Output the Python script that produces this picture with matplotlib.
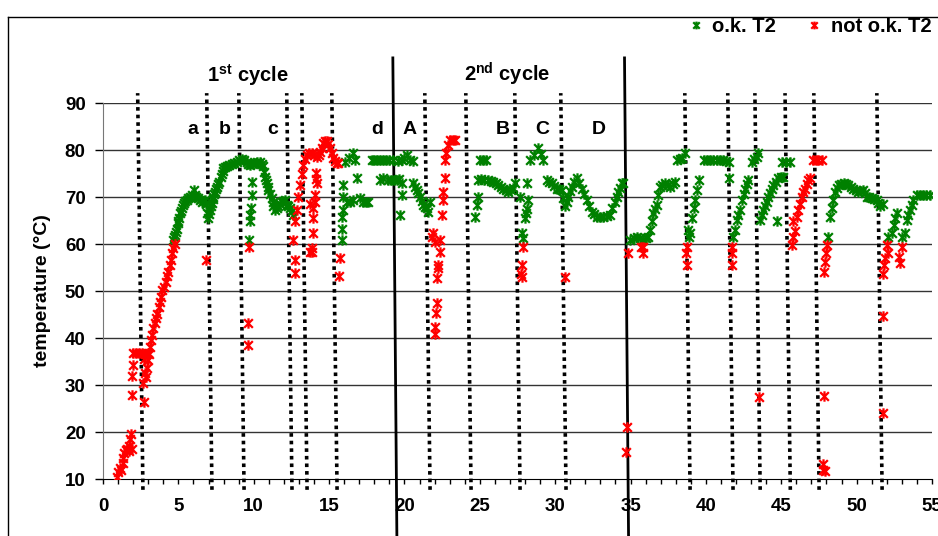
import matplotlib
matplotlib.use("Agg")
import matplotlib.pyplot as plt
from matplotlib.path import Path
from matplotlib.lines import Line2D

plt.rcParams['font.family'] = ['Liberation Sans', 'DejaVu Sans']
plt.rcParams['mathtext.fontset'] = 'custom'
plt.rcParams['mathtext.rm'] = 'Liberation Sans:bold'
plt.rcParams['mathtext.bf'] = 'Liberation Sans:bold'

# measured points (time, temperature °C)
ok_T2 = [
    (4.67, 60.9), (4.72, 61.5), (4.78, 61.9), (4.84, 62.6), (4.89, 63.3), (4.95, 64.4), (5.0, 65.0),
    (5.04, 65.5), (5.11, 66.5), (5.16, 67.0), (5.22, 67.6), (5.3, 68.2), (5.37, 68.7), (5.45, 69.1),
    (5.55, 69.4), (5.65, 69.8), (5.77, 70.0), (5.9, 70.5), (6.04, 71.5), (6.1, 70.4), (6.2, 70.0),
    (6.33, 69.7), (6.45, 69.4), (6.55, 69.0), (6.65, 69.2), (6.77, 69.4), (6.85, 68.5), (6.92, 66.5),
    (6.99, 65.5), (7.05, 66.3), (7.1, 67.2), (7.15, 68.0), (7.21, 68.7), (7.27, 69.5), (7.32, 70.1),
    (7.38, 70.6), (7.43, 71.1), (7.5, 71.7), (7.54, 72.2), (7.62, 72.8), (7.72, 73.3), (7.8, 74.2),
    (7.87, 75.0), (7.93, 75.6), (7.98, 76.1), (8.1, 76.3), (8.21, 76.5), (8.38, 76.8), (8.54, 77.0),
    (8.7, 77.2), (8.87, 77.5), (9.03, 77.8), (9.2, 78.0), (9.37, 77.8), (9.53, 77.5), (9.65, 77.1),
    (9.75, 76.8), (9.92, 77.0), (10.09, 77.3), (10.25, 77.5), (10.42, 77.5), (10.55, 77.0), (10.64, 76.5),
    (10.7, 75.4), (10.75, 74.3), (10.8, 73.6), (10.86, 72.9), (10.92, 72.2), (10.97, 71.5), (11.08, 70.6),
    (11.19, 69.7), (11.25, 68.9), (11.3, 68.0), (11.41, 67.2), (11.52, 67.6), (11.64, 68.0), (11.75, 68.5),
    (11.86, 69.0), (11.97, 69.2), (12.08, 69.4), (12.19, 68.3), (12.3, 68.0), (12.41, 67.6), (12.52, 67.0),
    (12.63, 66.2),
    (9.87, 73.3), (9.87, 70.4), (9.85, 67.7), (9.75, 66.2), (9.75, 64.9), (9.71, 60.9),
    (15.84, 60.9), (15.84, 63.3), (15.84, 65.8), (15.9, 67.2), (15.95, 70.1), (15.95, 72.6), (16.06, 77.5),
    (16.3, 78.2), (16.61, 79.3), (16.72, 77.9), (16.83, 74.0), (16.17, 69.0), (16.39, 69.0), (16.6, 69.3),
    (17.05, 69.7), (17.27, 69.0), (17.45, 69.0), (17.6, 69.0), (17.83, 77.9), (18.0, 77.9), (18.2, 77.9),
    (18.4, 77.9), (18.6, 77.9), (18.8, 77.8), (19.0, 77.9), (19.26, 77.9), (18.4, 73.7), (18.6, 74.0),
    (18.93, 73.6), (19.1, 73.6), (19.3, 73.6),
    (19.49, 73.6), (19.65, 73.8), (19.82, 72.9), (19.82, 70.4), (19.71, 66.2), (19.6, 77.6), (19.82, 77.9),
    (20.0, 78.2), (20.15, 79.0), (20.37, 77.9), (20.55, 77.6), (20.59, 72.9), (20.7, 72.2), (20.81, 71.5),
    (20.92, 70.8), (21.03, 70.1), (21.15, 69.2), (21.26, 68.3), (21.37, 67.9), (21.48, 67.6), (21.59, 66.8),
    (21.7, 69.0),
    (24.68, 65.8), (24.8, 68.3), (24.9, 70.1), (24.9, 73.6), (25.0, 77.9), (25.24, 77.9), (25.4, 77.9),
    (25.1, 73.8), (25.3, 73.6), (25.57, 73.6), (25.75, 73.5), (25.9, 73.3), (26.05, 73.0), (26.23, 72.6),
    (26.4, 72.2), (26.56, 71.8), (26.73, 71.5), (26.9, 71.1), (27.1, 71.5), (27.2, 72.0), (27.34, 72.9),
    (27.67, 70.1), (27.78, 62.3), (27.89, 61.2), (28.0, 65.5), (28.05, 66.5), (28.11, 67.5), (28.22, 69.4),
    (28.11, 72.9), (28.33, 77.9), (28.6, 79.0), (28.89, 80.4), (29.05, 79.2), (29.22, 77.9), (29.44, 73.6),
    (29.6, 73.3), (29.77, 72.9), (29.93, 72.3), (30.1, 71.8), (30.27, 71.7), (30.43, 71.5), (30.55, 69.8),
    (30.66, 68.0), (30.77, 69.0), (30.88, 70.1), (31.0, 71.2), (31.1, 72.2), (31.27, 73.2), (31.43, 74.0),
    (31.6, 72.9), (31.77, 71.8), (31.93, 70.6), (32.1, 69.4), (32.27, 68.1), (32.43, 66.9), (32.6, 66.3),
    (32.76, 65.8), (33.0, 65.8), (33.2, 65.8), (33.42, 66.0), (33.64, 66.2), (33.8, 67.6), (33.97, 69.0),
    (34.1, 70.0), (34.2, 71.1), (34.3, 72.0), (34.42, 72.9), (34.53, 72.9),
    (34.97, 60.9), (35.2, 61.2), (35.41, 61.6), (35.63, 61.2), (35.85, 60.9), (36.0, 61.2), (36.18, 61.6),
    (36.3, 63.0), (36.4, 64.8), (36.52, 66.5), (36.63, 67.4), (36.74, 68.3), (36.85, 70.4), (36.96, 72.2),
    (37.12, 72.6), (37.29, 72.9), (37.46, 72.5), (37.63, 72.2), (37.8, 72.8), (37.96, 73.3), (38.07, 77.9),
    (38.25, 78.0), (38.4, 78.2), (38.62, 79.3),
    (38.84, 63.0), (38.9, 61.6), (38.95, 62.3), (39.07, 65.5), (39.18, 67.6), (39.29, 69.4), (39.4, 71.5),
    (39.51, 73.6), (39.85, 77.9), (40.1, 77.9), (40.3, 77.9), (40.5, 77.9), (40.72, 77.9), (40.95, 77.9),
    (41.16, 77.9), (41.35, 77.7), (41.5, 77.5), (41.5, 74.0),
    (41.83, 61.6), (41.94, 63.0), (42.05, 65.1), (42.16, 66.2), (42.27, 67.2), (42.38, 69.4), (42.5, 70.6),
    (42.6, 71.8), (42.71, 72.7), (42.82, 73.6), (43.04, 77.5), (43.2, 78.0), (43.37, 78.6), (43.48, 79.3),
    (43.6, 65.1), (43.71, 66.2), (43.82, 67.2), (43.93, 68.1), (44.04, 69.0), (44.15, 69.9), (44.26, 70.8),
    (44.37, 71.7), (44.48, 72.6), (44.65, 73.3), (44.81, 74.0), (44.98, 74.2), (45.14, 74.3), (44.7, 64.8),
    (45.03, 77.5), (45.3, 77.5), (45.59, 77.5),
    (48.13, 61.6), (48.24, 65.8), (48.35, 67.6), (48.46, 69.4), (48.57, 71.1), (48.68, 71.9), (48.8, 72.6),
    (48.97, 72.8), (49.13, 72.9), (49.3, 72.8), (49.46, 72.6), (49.62, 72.2), (49.79, 71.8), (49.95, 71.5),
    (50.12, 71.1), (50.3, 71.3), (50.45, 71.5), (50.56, 70.8), (50.67, 70.1), (50.83, 69.9), (51.0, 69.7),
    (51.17, 69.5), (51.34, 69.4), (51.45, 68.7), (51.56, 68.0), (51.78, 68.6),
    (52.1, 61.6), (52.33, 62.3), (52.45, 64.0), (52.55, 65.5), (52.67, 66.5), (53.0, 61.6), (53.2, 62.3),
    (53.31, 65.1), (53.43, 66.2), (53.55, 67.2), (53.66, 68.3), (53.77, 69.4), (54.0, 70.4), (54.2, 70.4),
    (54.4, 70.4), (54.6, 70.4), (54.88, 70.4),
]

not_ok_T2 = [
    (0.9, 10.5), (1.0, 11.5), (1.1, 12.3), (1.2, 12.0), (1.3, 13.5), (1.35, 14.5), (1.4, 15.5), (1.5, 16.2),
    (1.6, 16.3), (1.7, 16.0), (1.75, 17.0), (1.8, 18.5), (1.85, 19.5), (1.9, 16.3), (1.9, 27.8), (1.93, 31.9),
    (2.0, 34.2), (2.0, 36.8), (2.2, 36.8), (2.4, 36.8), (2.6, 36.8), (2.8, 36.6), (3.0, 36.8), (2.7, 35.5),
    (2.66, 30.4), (2.7, 26.4), (2.79, 32.5), (2.85, 31.7), (2.9, 33.6), (3.01, 35.3), (3.05, 36.7),
    (3.12, 38.1), (3.19, 39.6), (3.27, 40.6), (3.34, 42.1), (3.45, 43.1), (3.52, 44.2), (3.61, 45.2),
    (3.72, 46.7), (3.78, 47.7), (3.85, 48.8), (3.94, 50.2), (4.05, 50.9), (4.16, 52.0), (4.27, 53.1),
    (4.34, 54.1), (4.45, 55.5), (4.49, 56.6), (4.6, 58.0), (4.67, 59.1), (4.76, 60.1),
    (6.84, 56.6), (9.69, 59.4), (9.65, 43.3), (9.65, 38.5),
    (12.63, 60.9), (12.74, 56.6), (12.74, 53.9), (12.74, 64.8), (12.85, 67.2), (12.96, 70.1), (13.07, 72.6),
    (13.19, 75.0), (13.3, 76.8), (13.4, 78.0), (13.52, 79.0), (13.7, 79.3), (13.85, 79.3), (14.0, 79.0),
    (14.18, 78.6), (14.3, 79.0), (14.4, 79.6), (14.52, 80.5), (14.62, 81.4), (14.73, 82.0), (14.84, 82.0),
    (14.95, 81.2), (15.06, 80.4), (15.17, 79.3), (15.28, 78.2), (15.4, 77.7), (15.51, 77.2), (15.62, 77.2),
    (13.74, 68.6), (13.96, 67.6), (13.96, 65.5), (13.96, 62.3), (13.85, 59.1), (13.74, 58.4), (13.85, 58.2),
    (14.07, 70.4), (14.07, 69.0), (14.18, 72.9), (14.1, 73.9), (14.16, 75.2),
    (15.73, 57.0), (15.68, 53.1),
    (21.92, 62.3), (21.8, 61.4), (22.0, 60.5), (22.36, 60.9), (22.36, 58.4), (22.25, 55.5), (22.25, 54.8),
    (22.18, 52.7), (22.14, 47.4), (22.1, 45.3), (22.03, 42.4), (22.0, 40.9), (22.47, 66.2), (22.58, 69.4),
    (22.58, 71.1), (22.69, 74.0), (22.69, 77.9), (22.76, 79.3), (22.9, 81.0), (23.03, 82.1), (23.2, 82.1),
    (23.36, 82.1),
    (27.85, 59.4), (27.78, 55.5), (27.7, 53.7), (27.78, 53.0), (30.66, 53.0),
    (34.86, 58.0), (34.75, 21.1), (34.7, 15.8), (35.7, 59.4), (35.85, 59.4), (35.85, 58.0),
    (38.77, 59.4), (38.7, 58.0), (38.73, 55.5), (41.72, 59.4), (41.7, 58.0), (41.72, 55.5), (43.55, 27.5),
    (45.69, 59.8), (45.8, 61.6), (45.9, 62.8), (45.8, 64.8), (46.02, 65.8), (46.13, 67.2), (46.24, 68.6),
    (46.35, 70.1), (46.47, 71.0), (46.58, 71.8), (46.7, 72.7), (46.8, 73.6), (46.9, 74.0), (47.13, 77.9),
    (47.3, 77.9), (47.46, 77.9), (47.69, 77.9),
    (48.02, 59.8), (48.0, 58.0), (47.91, 56.2), (47.84, 54.1), (47.8, 13.3), (47.77, 12.0), (47.9, 11.7),
    (47.84, 27.7),
    (52.0, 59.8), (52.1, 58.0), (51.9, 57.0), (51.82, 55.5), (51.78, 53.7), (52.78, 57.3), (52.89, 55.9),
    (53.0, 59.4), (51.78, 44.6), (51.78, 24.0),
]

# phase boundaries (dotted) and cycle boundaries (solid), x at the bottom end
phase_x = [2.65, 7.23, 9.36, 12.54, 13.54, 15.53, 21.7, 24.42, 27.67, 30.72,
           38.95, 41.8, 43.6, 45.6, 47.51, 51.69]
cycle_x = [19.5, 34.87]
phase_labels = ['a', 'b', 'c', 'd', 'A', 'B', 'C', 'D']
phase_label_x = [5.97, 8.1, 11.28, 18.18, 20.37, 26.54, 29.13, 32.9]
cycle_labels = [r'1$^{\mathrm{st}}$ cycle', r'2$^{\mathrm{nd}}$ cycle']
cycle_label_x = [9.6, 26.8]

star = Path([(-1, -1), (1, 1), (-1, 1), (1, -1), (0, -1.2), (0, 1.2)],
            [Path.MOVETO, Path.LINETO, Path.MOVETO, Path.LINETO, Path.MOVETO, Path.LINETO])

fig = plt.figure(figsize=(9.38, 5.36), dpi=100)
ax = fig.add_axes([0.1098, 0.1063, 0.8838, 0.7015])

ax.set_xlim(0, 55)
ax.set_ylim(10, 90)

for t in range(20, 91, 10):
    ax.axhline(t, color='#333333', lw=1, zorder=1)

# slanted drawn separators, as in the original
slant = 0.35 / 84.4
for x in phase_x:
    ax.plot([x, x - slant * (92.1 - 7.7)], [7.7, 92.1], color='black', lw=2.6,
            linestyle=(0, (1, 1.1)), clip_on=False, zorder=2)
for x in cycle_x:
    ax.plot([x, x - 0.27], [-3, 99.6], color='black', lw=2,
            clip_on=False, zorder=2)

ax.plot([p[0] for p in ok_T2], [p[1] for p in ok_T2], linestyle='none', marker=star,
        ms=7.5, mew=1.6, color='#008000', label='o.k. T2', zorder=3)
ax.plot([p[0] for p in not_ok_T2], [p[1] for p in not_ok_T2], linestyle='none', marker=star,
        ms=7.5, mew=1.6, color='#ff0000', label='not o.k. T2', zorder=4)

for lab, x in zip(phase_labels, phase_label_x):
    ax.text(x, 84.3, lab, ha='center', va='center', fontsize=14, fontweight='bold')
for lab, x in zip(cycle_labels, cycle_label_x):
    ax.text(x, 96.0, lab, ha='center', va='center', fontsize=14.5, fontweight='bold', clip_on=False)

ax.set_xticks(range(0, 56, 5))
ax.set_xticks(range(0, 56), minor=True)
ax.set_yticks(range(10, 91, 10))
ax.tick_params(axis='x', which='both', direction='out', length=3.6, width=1, pad=10,
               labelsize=13.5, color='black')
ax.tick_params(axis='y', direction='out', length=5.5, width=1, pad=7, labelsize=13.5)
for lab in ax.get_xticklabels() + ax.get_yticklabels():
    lab.set_fontweight('bold')

ax.spines['top'].set_visible(False)
ax.spines['right'].set_visible(False)
ax.spines['left'].set_color('#777777')
ax.spines['bottom'].set_color('black')
ax.set_ylabel('temperature (°C)', fontsize=14, fontweight='bold', labelpad=10)

ax.legend(loc='center right', bbox_to_anchor=(1.012, 1 - 27 / 536), bbox_transform=fig.transFigure,
          ncol=2, frameon=False, handlelength=0.6, handletextpad=0.5, columnspacing=1.6,
          prop={'weight': 'bold', 'size': 14.5}, markerscale=0.75)

# chart-area frame
fig.add_artist(Line2D([8 / 938, 1.0], [1 - 17 / 536, 1 - 17 / 536], color='black', lw=1))
fig.add_artist(Line2D([8 / 938, 8 / 938], [0, 1 - 17 / 536], color='black', lw=1))

fig.savefig('out.png', dpi=100)
